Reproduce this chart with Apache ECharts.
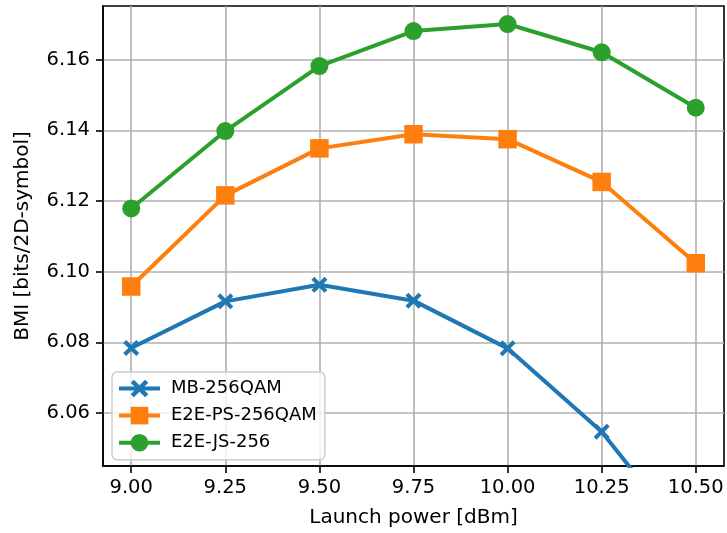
<!DOCTYPE html>
<html>
<head>
<meta charset="utf-8">
<script src="https://cdn.jsdelivr.net/npm/echarts@6/dist/echarts.min.js"></script>
<style>html,body{margin:0;padding:0;background:#fff}#c{width:727px;height:533px}</style>
</head>
<body>
<div id="c"></div>
<script>
const launchPower = [9.00, 9.25, 9.50, 9.75, 10.00, 10.25, 10.50];
const mb256 = [6.0784, 6.0916, 6.0963, 6.0918, 6.0783, 6.0547, 6.0212];
const e2ePs256 = [6.0958, 6.1216, 6.1349, 6.1389, 6.1375, 6.1254, 6.1024];
const e2eJs256 = [6.1179, 6.1398, 6.1582, 6.1681, 6.1701, 6.1621, 6.1464];
const xTicks = [9.00, 9.25, 9.50, 9.75, 10.00, 10.25, 10.50];
const yTicks = [6.06, 6.08, 6.10, 6.12, 6.14, 6.16];
const seriesNames = ['MB-256QAM', 'E2E-PS-256QAM', 'E2E-JS-256'];

const xPath = 'path://M0,18 L18,0 L50,32 L82,0 L100,18 L68,50 L100,82 L82,100 L50,68 L18,100 L0,82 L32,50 Z';
const FONT = 'DejaVu Sans';
function pairs(ys){ return launchPower.map((x,i)=>[x, ys[i]]); }

const chart = echarts.init(document.getElementById('c'), null, {renderer:'canvas'});
const axisCommon = {
  axisLine:{show:true, onZero:false, lineStyle:{color:'#000', width:1.6}},
  axisTick:{show:true, inside:false, length:7, lineStyle:{color:'#000', width:1.6}},
  splitLine:{show:true, lineStyle:{color:'#b0b0b0', width:1.6}},
};
chart.setOption({
  animation:false,
  backgroundColor:'#fff',
  textStyle:{fontFamily:FONT},
  grid:{left:103, top:6, width:621, height:461, show:true, borderColor:'#000', borderWidth:1.6, backgroundColor:'transparent'},
  xAxis:{
    type:'value', min:8.925, max:10.575,
    name:'Launch power [dBm]', nameLocation:'middle', nameGap:42,
    nameTextStyle:{fontSize:20, color:'#000', fontFamily:FONT},
    axisLine:axisCommon.axisLine,
    axisTick:Object.assign({}, axisCommon.axisTick, {customValues:xTicks}),
    splitLine:Object.assign({}, axisCommon.splitLine, {customValues:xTicks}),
    axisLabel:{customValues:xTicks, fontSize:19.5, color:'#000', margin:12, fontFamily:FONT,
      formatter:v=>v.toFixed(2)}
  },
  yAxis:{
    type:'value', min:6.045, max:6.1752,
    name:'BMI [bits/2D-symbol]', nameLocation:'middle', nameGap:70,
    nameTextStyle:{fontSize:20, color:'#000', fontFamily:FONT},
    axisLine:axisCommon.axisLine,
    axisTick:Object.assign({}, axisCommon.axisTick, {customValues:yTicks}),
    splitLine:Object.assign({}, axisCommon.splitLine, {customValues:yTicks}),
    axisLabel:{customValues:yTicks, fontSize:19.5, color:'#000', margin:13, fontFamily:FONT,
      formatter:v=>v.toFixed(2)}
  },
  legend:{
    left:112, top:372, orient:'vertical',
    padding:[7.5,8,8,5], itemGap:9.1, itemWidth:41, itemHeight:22,
    backgroundColor:'rgba(255,255,255,0.8)', borderColor:'#cccccc', borderWidth:1.5, borderRadius:5,
    lineStyle:{width:4},
    textStyle:{fontSize:18, color:'#000', fontFamily:FONT, lineHeight:18, padding:[0,0,0,6]},
    data:seriesNames
  },
  series:[
    {name:seriesNames[0], type:'line', data:pairs(mb256), clip:true,
     symbol:xPath, symbolSize:16, color:'#1f77b4',
     lineStyle:{width:4, color:'#1f77b4'}, itemStyle:{color:'#1f77b4'}},
    {name:seriesNames[1], type:'line', data:pairs(e2ePs256), clip:true,
     symbol:'rect', symbolSize:18.5, color:'#ff7f0e',
     lineStyle:{width:4, color:'#ff7f0e'}, itemStyle:{color:'#ff7f0e'}},
    {name:seriesNames[2], type:'line', data:pairs(e2eJs256), clip:true,
     symbol:'circle', symbolSize:18, color:'#2ca02c',
     lineStyle:{width:4, color:'#2ca02c'}, itemStyle:{color:'#2ca02c'}}
  ]
});
</script>
</body>
</html>
